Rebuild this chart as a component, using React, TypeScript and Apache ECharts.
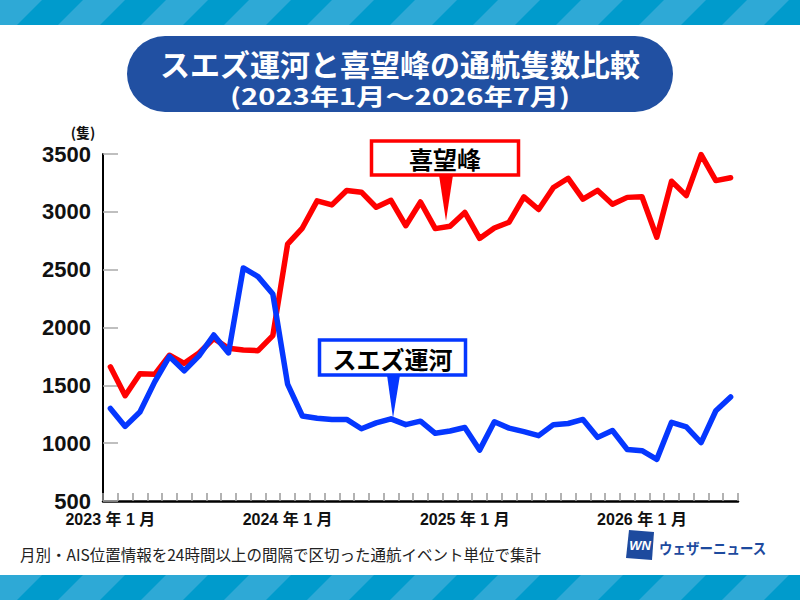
import React, { useEffect, useRef } from "react";
import * as echarts from "echarts";

const years = [2023, 2024, 2025, 2026];
const lastMonth2026 = 7;

const capeValues = [
  1660, 1410, 1600, 1595, 1760, 1690, 1780, 1905, 1820, 1805, 1800, 1930,
  2720, 2860, 3095, 3060, 3185, 3170, 3040, 3100, 2880, 3085, 2855, 2875,
  2995, 2770, 2860, 2910, 3130, 3020, 3210, 3290, 3110, 3185, 3065, 3125,
  3130, 2780, 3265, 3140, 3495, 3270, 3295,
];

const suezValues = [
  1300, 1145, 1270, 1530, 1750, 1625, 1755, 1935, 1780, 2515, 2440, 2290,
  1510, 1235, 1215, 1205, 1205, 1125, 1175, 1210, 1160, 1190, 1085, 1105,
  1135, 940, 1185, 1130, 1100, 1065, 1160, 1170, 1205, 1050, 1110, 945,
  935, 860, 1180, 1140, 1005, 1280, 1400,
];

const yTicks = { min: 500, max: 3500, interval: 500 };

const titleMain = "スエズ運河と喜望峰の通航隻数比較";
const titleSub = "(2023年1月～2026年7月)";
const unitLabel = "(隻)";
const capeLabel = "喜望峰";
const suezLabel = "スエズ運河";
const footnote = "月別・AIS位置情報を24時間以上の間隔で区切った通航イベント単位で集計";
const brand = "ウェザーニュース";

const months: string[] = [];
years.forEach((y) => {
  const last = y === 2026 ? lastMonth2026 : 12;
  for (let m = 1; m <= last; m++) months.push(`${y}-${m < 10 ? "0" + m : m}`);
});

const RED = "#ff0000";
const BLUE = "#0537ff";
const JP = '"Noto Sans CJK JP", sans-serif';

function stripes(y0: number, h: number) {
  const els: any[] = [
    { type: "rect", shape: { x: 0, y: y0, width: 800, height: h }, style: { fill: "#009bcc" } },
  ];
  for (let a = 0; a < 900; a += 83) {
    els.push({
      type: "polygon",
      shape: {
        points: [
          [a, y0],
          [a + 42, y0],
          [a + 42 - h, y0 + h],
          [a - h, y0 + h],
        ],
      },
      style: { fill: "#2ea9d6" },
    });
  }
  return els;
}

export default function App() {
  const ref = useRef<HTMLDivElement>(null);
  useEffect(() => {
    document.body.style.margin = "0";
    const chart = echarts.init(ref.current!, undefined, { renderer: "svg" });
    const option: any = {
      animation: false,
      backgroundColor: "#ffffff",
      grid: { left: 103, right: 62, top: 154, bottom: 99, containLabel: false },
      xAxis: {
        type: "category",
        data: months,
        boundaryGap: true,
        axisLine: { lineStyle: { color: "#000", width: 2.5 } },
        axisTick: {
          show: true,
          inside: true,
          length: 8,
          interval: 0,
          lineStyle: { color: "#999", width: 1.5 },
        },
        axisLabel: {
          interval: (i: number, v: string) => v.endsWith("-01"),
          formatter: (v: string) => {
            const [y, m] = v.split("-");
            return `${y} 年 ${parseInt(m, 10)} 月`;
          },
          color: "#111",
          fontWeight: "bold",
          fontSize: 16,
          fontFamily: '"Liberation Sans", "Noto Sans CJK JP", sans-serif',
          margin: 10,
        },
        splitLine: { show: false },
      },
      yAxis: {
        type: "value",
        min: yTicks.min,
        max: yTicks.max,
        interval: yTicks.interval,
        axisLine: { show: true, lineStyle: { color: "#000", width: 2 } },
        axisTick: { show: true, inside: true, length: 15, lineStyle: { color: "#aaa", width: 1.5 } },
        axisLabel: {
          formatter: (v: number) => String(v),
          color: "#111",
          fontWeight: "bold",
          fontSize: 22,
          fontFamily: '"Liberation Sans", sans-serif',
          margin: 12,
        },
        splitLine: { show: false },
      },
      series: [
        {
          type: "line",
          name: capeLabel,
          data: capeValues,
          symbol: "none",
          lineStyle: { color: RED, width: 5.5, cap: "round", join: "round" },
          z: 2,
        },
        {
          type: "line",
          name: suezLabel,
          data: suezValues,
          symbol: "none",
          lineStyle: { color: BLUE, width: 5.5, cap: "round", join: "round" },
          z: 3,
        },
      ],
      graphic: [
        ...stripes(0, 25),
        ...stripes(575, 25),
        {
          type: "rect",
          shape: { x: 127, y: 36, width: 546, height: 76, r: 38 },
          style: { fill: "#2150a2" },
        },
        {
          type: "text",
          x: 400,
          y: 63,
          style: {
            text: titleMain,
            fill: "#fff",
            font: `bold 30px ${JP}`,
            textAlign: "center",
            textVerticalAlign: "middle",
          },
        },
        {
          type: "text",
          x: 400,
          y: 95,
          scaleX: 1.27,
          style: {
            text: titleSub,
            fill: "#fff",
            font: `bold 23px ${JP}`,
            textAlign: "center",
            textVerticalAlign: "middle",
          },
        },
        {
          type: "text",
          x: 83,
          y: 132,
          style: {
            text: unitLabel,
            fill: "#111",
            font: `bold 14px ${JP}`,
            textAlign: "center",
            textVerticalAlign: "middle",
          },
        },
        // Cape callout
        {
          type: "polygon",
          shape: { points: [[439, 175], [453, 175], [446, 221]] },
          style: { fill: RED },
          z: 10,
        },
        {
          type: "rect",
          shape: { x: 371.5, y: 141, width: 147, height: 34 },
          style: { fill: "#fff", stroke: RED, lineWidth: 3.5 },
          z: 10,
        },
        {
          type: "text",
          x: 445,
          y: 158,
          z: 11,
          style: {
            text: capeLabel,
            fill: "#000",
            font: `bold 24px ${JP}`,
            textAlign: "center",
            textVerticalAlign: "middle",
          },
        },
        // Suez callout
        {
          type: "polygon",
          shape: { points: [[387, 375], [400, 375], [393, 418]] },
          style: { fill: BLUE },
          z: 10,
        },
        {
          type: "rect",
          shape: { x: 319.5, y: 340, width: 146, height: 35 },
          style: { fill: "#fff", stroke: BLUE, lineWidth: 3.5 },
          z: 10,
        },
        {
          type: "text",
          x: 392.5,
          y: 358,
          z: 11,
          style: {
            text: suezLabel,
            fill: "#000",
            font: `bold 24px ${JP}`,
            textAlign: "center",
            textVerticalAlign: "middle",
          },
        },
        // footnote
        {
          type: "text",
          x: 20,
          y: 554,
          style: {
            text: footnote,
            fill: "#222",
            font: `15.5px ${JP}`,
            textAlign: "left",
            textVerticalAlign: "middle",
          },
        },
        // brand logo
        {
          type: "polygon",
          shape: { points: [[629, 530], [654, 532], [652, 560], [626, 558]] },
          style: { fill: "#1d4a9e" },
        },
        {
          type: "text",
          x: 640,
          y: 545,
          style: {
            text: "WN",
            fill: "#fff",
            font: `italic bold 13px "Liberation Sans", sans-serif`,
            textAlign: "center",
            textVerticalAlign: "middle",
          },
        },
        {
          type: "text",
          x: 659,
          y: 547,
          scaleX: 0.9,
          style: {
            text: brand,
            fill: "#1d4a9e",
            font: `bold 15px ${JP}`,
            textAlign: "left",
            textVerticalAlign: "middle",
          },
        },
      ],
    };
    chart.setOption(option);
    return () => chart.dispose();
  }, []);
  return <div ref={ref} style={{ width: 800, height: 600 }} />;
}
